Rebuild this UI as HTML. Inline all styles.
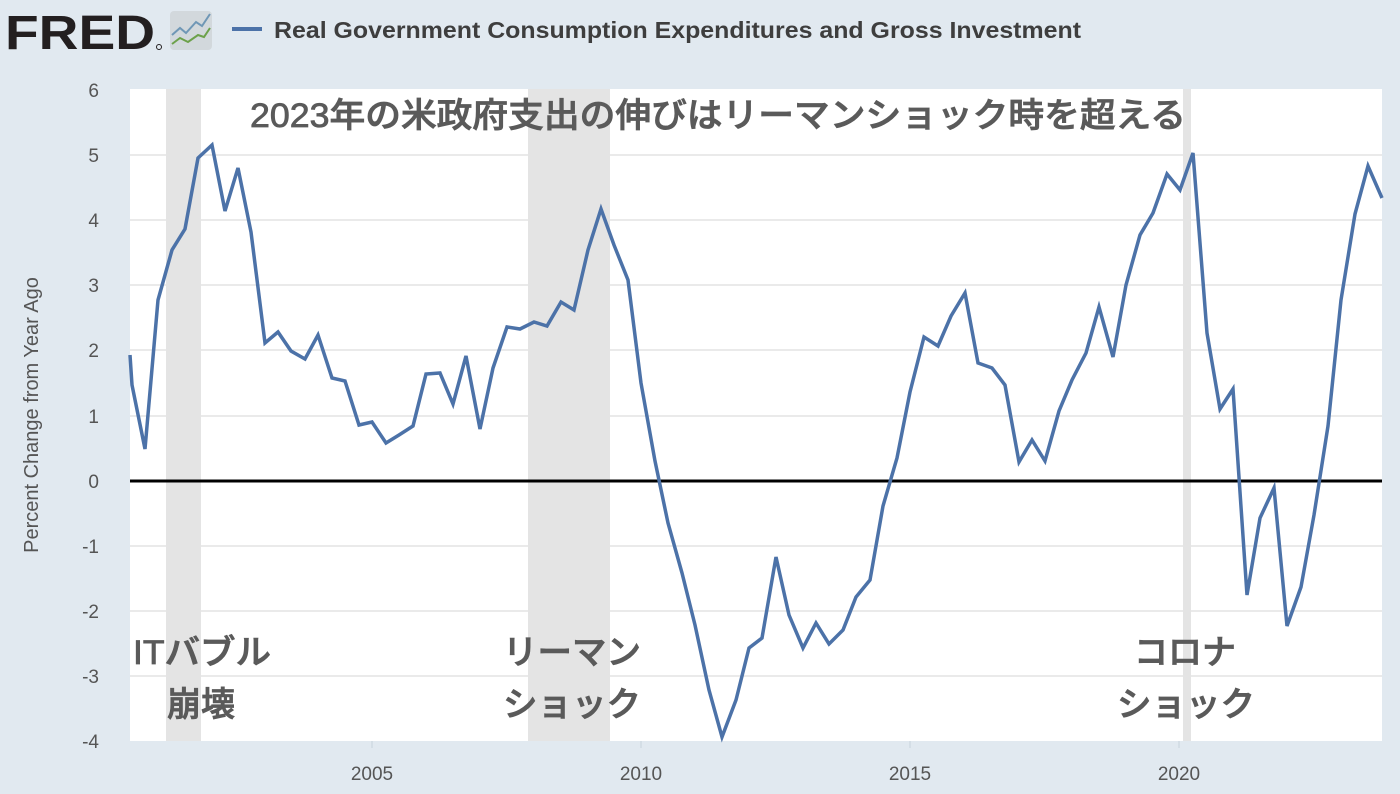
<!DOCTYPE html>
<html><head><meta charset="utf-8"><style>
body{margin:0;background:#e1e9f0;width:1400px;height:794px;overflow:hidden}
svg{display:block}
</style></head><body>
<svg width="1400" height="794" xmlns="http://www.w3.org/2000/svg" font-family="Liberation Sans, DejaVu Sans, sans-serif">
<rect width="1400" height="794" fill="#e1e9f0"/>
<text x="5" y="49" font-size="48" font-weight="bold" fill="#231f20" textLength="150" lengthAdjust="spacingAndGlyphs" font-family="Liberation Sans, sans-serif">FRED</text>
<circle cx="159" cy="47" r="2.5" fill="none" stroke="#231f20" stroke-width="1"/>
<rect x="170" y="11" width="42" height="39" rx="4" fill="#d2d8dc"/>
<polyline points="172,35 180,28 186,33 196,22 202,26 210,14" fill="none" stroke="#6f97b6" stroke-width="2"/>
<polyline points="172,44 180,38 188,42 198,35 204,37 210,28" fill="none" stroke="#6ca14a" stroke-width="2"/>
<line x1="232" y1="29" x2="262" y2="29" stroke="#4c72a8" stroke-width="4"/>
<text x="274" y="38" font-size="23" font-weight="bold" fill="#3e3e3e" textLength="807" lengthAdjust="spacingAndGlyphs">Real Government Consumption Expenditures and Gross Investment</text>
<rect x="130" y="89" width="1252" height="652" fill="#fff"/>
<rect x="166" y="89" width="35" height="652" fill="#e4e4e4"/>
<rect x="528" y="89" width="82" height="652" fill="#e4e4e4"/>
<rect x="1183" y="89" width="8" height="652" fill="#e4e4e4"/>
<g stroke="#e4e4e4" stroke-width="1.5">
<line x1="130" y1="155" x2="1382" y2="155"/><line x1="130" y1="220" x2="1382" y2="220"/>
<line x1="130" y1="285" x2="1382" y2="285"/><line x1="130" y1="350" x2="1382" y2="350"/>
<line x1="130" y1="416" x2="1382" y2="416"/><line x1="130" y1="546" x2="1382" y2="546"/>
<line x1="130" y1="611" x2="1382" y2="611"/><line x1="130" y1="676" x2="1382" y2="676"/>
</g>
<g stroke="#c8d3dd" stroke-width="1"><line x1="372" y1="741" x2="372" y2="748"/><line x1="641" y1="741" x2="641" y2="748"/><line x1="910" y1="741" x2="910" y2="748"/><line x1="1179" y1="741" x2="1179" y2="748"/></g>
<line x1="130" y1="481" x2="1382" y2="481" stroke="#000" stroke-width="3"/>
<g font-size="19" fill="#555" text-anchor="end">
<text x="99" y="97">6</text><text x="99" y="162">5</text><text x="99" y="227">4</text><text x="99" y="292">3</text><text x="99" y="357">2</text><text x="99" y="423">1</text><text x="99" y="488">0</text><text x="99" y="553">-1</text><text x="99" y="618">-2</text><text x="99" y="683">-3</text><text x="99" y="748">-4</text>
</g>
<g font-size="19" fill="#555" text-anchor="middle">
<text x="372" y="780">2005</text><text x="641" y="780">2010</text><text x="910" y="780">2015</text><text x="1179" y="780">2020</text>
</g>
<text transform="translate(38,415) rotate(-90)" font-size="20" fill="#555" text-anchor="middle">Percent Change from Year Ago</text>
<polyline fill="none" stroke="#4c72a8" stroke-width="3.5" stroke-linejoin="miter" points="130,355 132,385 145,449 158,300 172,250 185,229 198,158 212,145 225,211 238,168 251,232 265,343 278,332 291,351 305,359 318,335 332,378 345,381 359,425 372,422 386,443 399,435 413,426 426,374 440,373 453,404 466,356 480,429 493,368 507,327 520,329 534,322 547,326 561,302 574,310 588,250 601,209 614,245 628,280 641,383 655,461 668,523 682,573 695,625 709,690 722,737 736,700 749,648 762,638 776,557 789,615 803,648 816,623 829,644 843,630 856,597 870,580 883,506 897,458 910,392 924,337 938,346 951,316 965,293 978,363 992,368 1005,385 1019,462 1032,440 1045,461 1059,411 1072,380 1086,353 1099,307 1113,357 1126,285 1140,235 1153,213 1167,174 1180,190 1193,153 1207,333 1220,409 1233,389 1247,595 1260,518 1274,488 1287,626 1301,587 1314,515 1328,426 1341,300 1355,214 1368,166 1382,198"/>
<g font-family="Liberation Sans, Noto Sans CJK JP, sans-serif" fill="#5a5a5a" stroke="#5a5a5a" stroke-width="0.8" font-weight="500" font-size="34">
<text x="250" y="127" textLength="936" lengthAdjust="spacingAndGlyphs">2023年の米政府支出の伸びはリーマンショック時を超える</text>
<text x="133" y="664" textLength="138" lengthAdjust="spacingAndGlyphs">ITバブル</text>
<text x="167" y="716">崩壊</text>
<text x="503" y="664" textLength="138" lengthAdjust="spacingAndGlyphs">リーマン</text>
<text x="503" y="716" textLength="138" lengthAdjust="spacingAndGlyphs">ショック</text>
<text x="1134" y="664">コロナ</text>
<text x="1117" y="716" textLength="138" lengthAdjust="spacingAndGlyphs">ショック</text>
</g>
</svg>
</body></html>
